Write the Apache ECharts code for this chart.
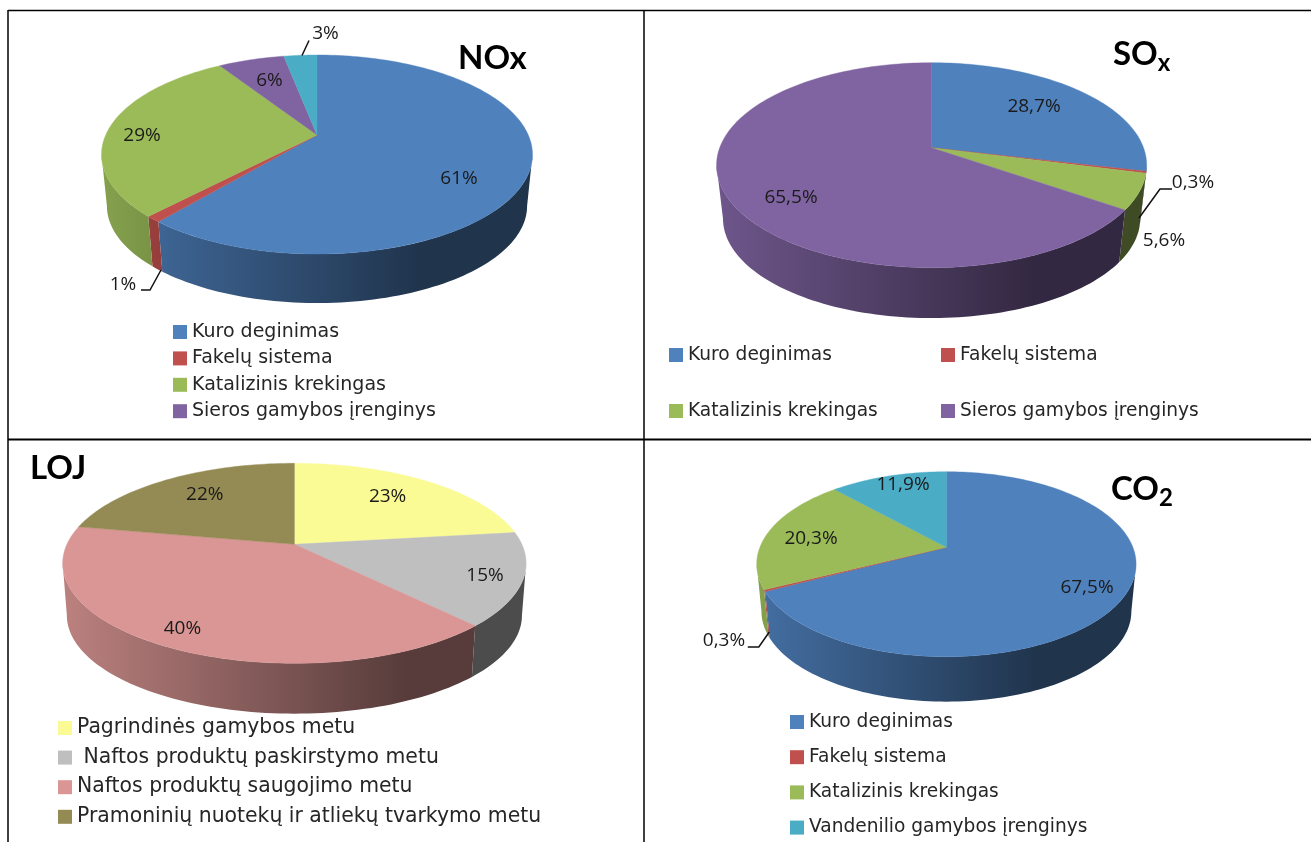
<!DOCTYPE html>
<html>
<head>
<meta charset="utf-8">
<title>Teršalų šaltiniai</title>
<style>
html,body{margin:0;padding:0;background:#fff}
#chart{width:1311px;height:842px}
</style>
<script src="https://cdn.jsdelivr.net/npm/echarts@6/dist/echarts.min.js"></script>
</head>
<body>
<div id="chart"></div>
<script>
// Emission shares (percent) per pollutant
const noxCategories = ['Kuro deginimas', 'Fakelų sistema', 'Katalizinis krekingas', 'Sieros gamybos įrenginys', 'Vandenilio gamybos įrenginys'];
const noxValues = [61, 1, 29, 6, 3];
const soxCategories = ['Kuro deginimas', 'Fakelų sistema', 'Katalizinis krekingas', 'Sieros gamybos įrenginys'];
const soxValues = [28.7, 0.3, 5.6, 65.5];
const lojCategories = ['Pagrindinės gamybos metu', ' Naftos produktų paskirstymo metu', 'Naftos produktų saugojimo metu', 'Pramoninių nuotekų ir atliekų tvarkymo metu'];
const lojValues = [23, 15, 40, 22];
const co2Categories = ['Kuro deginimas', 'Fakelų sistema', 'Katalizinis krekingas', 'Vandenilio gamybos įrenginys'];
const co2Values = [67.5, 0.3, 20.3, 11.9];

const noxColors = ['#4f81bd', '#c0504d', '#9bbb59', '#8064a2', '#4bacc6'];
const soxColors = ['#4f81bd', '#c0504d', '#9bbb59', '#8064a2'];
const lojColors = ['#fbfb95', '#bfbfbf', '#d99694', '#948a54'];
const co2Colors = ['#4f81bd', '#c0504d', '#9bbb59', '#4bacc6'];

const LEGEND_FONT = 'DejaVu Sans';
const TITLE_FONT = 'Lato';
const LABEL_FONT = '19px "Open Sans"';
const LABEL_COLOR = '#1a1a1a';
const LEGEND_COLOR = '#262626';

// Perspective disc: (cx, cy) is the projected centre, A and B the semi-axes before
// foreshortening, k the perspective strength, depth the rim height, shrink the lower rim scale.
const pies = [
  {
    categories: noxCategories, values: noxValues, colors: noxColors, decimals: 0,
    cx: 317, cy: 135, A: 211.3, B: 95.7, k: 0.196, depth: 52, shrink: 0.975, x0: 102, x1: 533,
    labels: [[459, 179], [123, 285], [142, 136], [269.5, 80.5], [325.5, 34]],
    leaders: { 1: [[161, 270], [150, 290], [141, 290]], 4: [[302, 55.5], [309, 40.5]] }
  },
  {
    categories: soxCategories, values: soxValues, colors: soxColors, decimals: 1,
    cx: 931.6, cy: 147.7, A: 211.9, B: 99.5, k: 0.1707, depth: 54, shrink: 0.97, x0: 717, x1: 1146,
    labels: [[1034, 107], [1193, 183], [1164, 241], [791, 198]],
    leaders: { 1: [[1139, 218], [1160, 189], [1172, 189]] }
  },
  {
    categories: lojCategories, values: lojValues, colors: lojColors, decimals: 0,
    cx: 294.4, cy: 544.3, A: 227.5, B: 96.4, k: 0.19, depth: 52.5, shrink: 0.982, x0: 63, x1: 526,
    labels: [[387.6, 497], [485, 576], [182.4, 628.7], [204.8, 495]],
    leaders: {}
  },
  {
    categories: co2Categories, values: co2Values, colors: co2Colors, decimals: 1,
    cx: 946.4, cy: 547.3, A: 186.5, B: 89.4, k: 0.1827, depth: 47.7, shrink: 0.975, x0: 757, x1: 1136,
    labels: [[1087, 587.7], [724, 641], [811, 538.7], [903, 485]],
    leaders: { 1: [[769.3, 632], [758.8, 647], [747.8, 647]] }
  }
];

// Side wall of a slice: one filled path of quads between the upper and lower rims,
// so the outline follows the tangent between the two ellipses.
echarts.graphic.registerShape('rimWall', echarts.graphic.extendShape({
  shape: { upper: [], lower: [] },
  buildPath: function (ctx, shape) {
    for (let i = 0; i + 1 < shape.upper.length; i++) {
      ctx.moveTo(shape.upper[i][0], shape.upper[i][1]);
      ctx.lineTo(shape.upper[i + 1][0], shape.upper[i + 1][1]);
      ctx.lineTo(shape.lower[i + 1][0], shape.lower[i + 1][1]);
      ctx.lineTo(shape.lower[i][0], shape.lower[i][1]);
      ctx.closePath();
    }
  }
}));

// Map a clockwise angle from twelve o'clock to a point on the perspective disc
function project(pie, angle, lower) {
  const u = Math.sin(angle);
  const v = Math.cos(angle);
  const w = 1 + pie.k * v;
  const s = lower ? pie.shrink : 1;
  return [
    pie.cx + s * pie.A * u / w,
    pie.cy + (lower ? pie.depth : 0) - s * pie.B * v / w
  ];
}

function sampleAngles(a0, a1) {
  const steps = Math.max(2, Math.ceil((a1 - a0) / (Math.PI / 120)));
  const out = [];
  for (let i = 0; i <= steps; i++) out.push(a0 + (a1 - a0) * i / steps);
  return out;
}

function shade(hex, factor) {
  const n = parseInt(hex.slice(1), 16);
  const c = [(n >> 16) & 255, (n >> 8) & 255, n & 255].map(function (x) { return Math.round(x * factor); });
  return 'rgb(' + c.join(',') + ')';
}

function formatShare(value, decimals) {
  return value.toFixed(decimals).replace('.', ',') + '%';
}

function sliceRenderer(pie, index) {
  const total = pie.values.reduce(function (a, b) { return a + b; }, 0);
  const before = pie.values.slice(0, index).reduce(function (a, b) { return a + b; }, 0);
  const color = pie.colors[index];
  return function (params, api) {
    const value = api.value(0);
    const a0 = before / total * Math.PI * 2;
    const a1 = (before + value) / total * Math.PI * 2;
    const topPoints = sampleAngles(a0, a1).map(function (a) { return project(pie, a, false); });
    const children = [
      {
        type: 'polygon', z2: 2,
        shape: { points: [[pie.cx, pie.cy]].concat(topPoints) },
        style: { fill: color, stroke: color, lineWidth: 0.4 }
      },
      {
        type: 'text', z2: 4,
        style: {
          text: formatShare(value, pie.decimals),
          x: pie.labels[index][0], y: pie.labels[index][1],
          fill: LABEL_COLOR, font: LABEL_FONT, align: 'center', verticalAlign: 'middle'
        }
      }
    ];
    // The wall is visible only between the two silhouette tangents, through the near side
    const tangent = Math.acos(-pie.k);
    const wallStart = Math.max(a0, tangent);
    const wallEnd = Math.min(a1, Math.PI * 2 - tangent);
    if (wallEnd > wallStart) {
      const wallAngles = sampleAngles(wallStart, wallEnd);
      children.push({
        type: 'rimWall', z2: 1,
        shape: {
          upper: wallAngles.map(function (a) { return project(pie, a, false); }),
          lower: wallAngles.map(function (a) { return project(pie, a, true); })
        },
        style: {
          fill: new echarts.graphic.LinearGradient(pie.x0, 0, pie.x1, 0, [
            { offset: 0, color: shade(color, 0.86) },
            { offset: 0.74, color: shade(color, 0.4) },
            { offset: 1, color: shade(color, 0.4) }
          ], true)
        }
      });
    }
    if (pie.leaders[index]) {
      children.push({
        type: 'polyline', z2: 3,
        shape: { points: pie.leaders[index] },
        style: { fill: null, stroke: '#111', lineWidth: 1.5 }
      });
    }
    return { type: 'group', children: children };
  };
}

const series = [];
pies.forEach(function (pie) {
  pie.values.forEach(function (value, i) {
    series.push({
      type: 'custom',
      name: pie.categories[i],
      coordinateSystem: 'none',
      itemStyle: { color: pie.colors[i] },
      data: [[value]],
      renderItem: sliceRenderer(pie, i),
      animation: false,
      silent: true
    });
  });
});

// firstRow is the vertical centre of the first entry
function legendBlock(names, left, firstRow, rowStep, fontSize) {
  const lineBox = Math.ceil(fontSize);
  return {
    orient: 'vertical', left: left, top: firstRow - lineBox / 2, padding: 0,
    itemWidth: 14, itemHeight: 14, itemGap: rowStep - lineBox,
    icon: 'rect', selectedMode: false, data: names,
    textStyle: { fontFamily: LEGEND_FONT, fontSize: fontSize, color: LEGEND_COLOR }
  };
}

const titleStyle = {
  fontFamily: TITLE_FONT, fontWeight: 'bold', fontSize: 33, color: '#000',
  rich: { sub: { fontFamily: TITLE_FONT, fontWeight: 'bold', fontSize: 24, color: '#000', padding: [18, 0, 0, 0] } }
};

function titleBlock(text, left, top) {
  return { text: text, left: left, top: top, padding: 0, textStyle: titleStyle };
}

// Table rules separating the four panels
function rule(x1, y1, x2, y2, width) {
  return { type: 'line', silent: true, shape: { x1: x1, y1: y1, x2: x2, y2: y2 }, style: { stroke: '#000', lineWidth: width } };
}

const chart = echarts.init(document.getElementById('chart'), null, { renderer: 'canvas' });
chart.setOption({
  backgroundColor: '#fff',
  animation: false,
  title: [
    titleBlock('NOx', 458, 42),
    titleBlock('SO{sub|x}', 1113, 33),
    titleBlock('LOJ', 30, 452),
    titleBlock('CO{sub|2}', 1111, 468)
  ],
  legend: [
    legendBlock(noxCategories.slice(0, 4), 173, 332, 26.4, 19),
    legendBlock([soxCategories[0], soxCategories[2]], 669, 355, 56, 18.6),
    legendBlock([soxCategories[1], soxCategories[3]], 941, 355, 56, 18.6),
    legendBlock(lojCategories, 58, 728.5, 30.6, 20.4),
    legendBlock(co2Categories, 790, 722, 35.2, 18.6)
  ],
  graphic: [
    rule(8, 10.5, 1311, 10.5, 1.5),
    rule(8, 439.5, 1311, 439.5, 2),
    rule(8, 10, 8, 842, 1.5),
    rule(644, 10, 644, 842, 1.5)
  ],
  series: series
});
</script>
</body>
</html>
